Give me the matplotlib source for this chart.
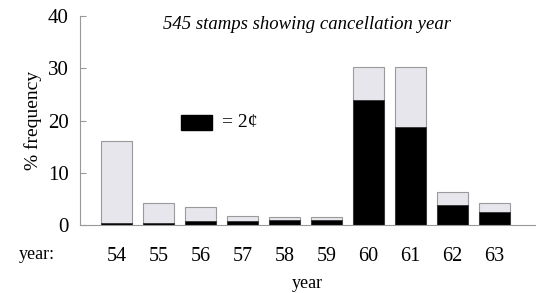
import matplotlib.pyplot as plt
import numpy as np
from matplotlib.patches import Rectangle

# Data
years = ['54', '55', '56', '57', '58', '59', '60', '61', '62', '63']
total_pct = [16.1, 4.2, 3.5, 1.8, 1.5, 1.5, 30.3, 30.3, 6.3, 4.3]
two_cent_pct = [0.3, 0.3, 0.8, 0.7, 1.0, 1.0, 23.9, 18.8, 3.9, 2.5]
y_ticks = [0, 10, 20, 30, 40]

serif = ['Liberation Serif', 'DejaVu Serif']
plt.rcParams['font.family'] = serif

fig = plt.figure(figsize=(5.43, 2.93), dpi=100)
ax = fig.add_axes([0.147, 0.232, 0.838, 0.713])

x = np.arange(len(years))
width = 0.75
ax.bar(x, total_pct, width, color='#e6e6ec', edgecolor='#9a9a9a', linewidth=0.8)
ax.bar(x, two_cent_pct, width, color='black', edgecolor='#333333', linewidth=0.6)

ax.set_xlim(-0.87, 9.96)
ax.set_ylim(0, 40)
ax.set_yticks(y_ticks)
ax.set_xticks(x)
ax.set_xticklabels(years)

for s in ['top', 'right']:
    ax.spines[s].set_visible(False)
ax.spines['left'].set_color('#999999')
ax.spines['bottom'].set_color('#999999')
ax.spines['left'].set_linewidth(0.8)
ax.spines['bottom'].set_linewidth(0.8)

ax.tick_params(axis='y', direction='in', length=4, color='#999999', labelsize=15, pad=8)
ax.tick_params(axis='x', length=0, labelsize=14.5, pad=16)

ax.set_ylabel('% frequency', fontsize=14, labelpad=4)
ax.set_xlabel('year', fontsize=13, labelpad=6)

fig.text(0.035, 0.13, 'year:', fontsize=13, ha='left', va='center')
fig.text(0.565, 0.915, '545 stamps showing cancellation year', fontsize=13.5,
         style='italic', ha='center', va='center')

# legend key for the 2 cent stamps
fig.patches.append(Rectangle((0.333, 0.555), 0.058, 0.052, transform=fig.transFigure,
                             facecolor='black', edgecolor='black'))
fig.text(0.408, 0.581, '= 2\u00a2', fontsize=14, ha='left', va='center')

plt.savefig('out.png', dpi=100)
plt.close()
